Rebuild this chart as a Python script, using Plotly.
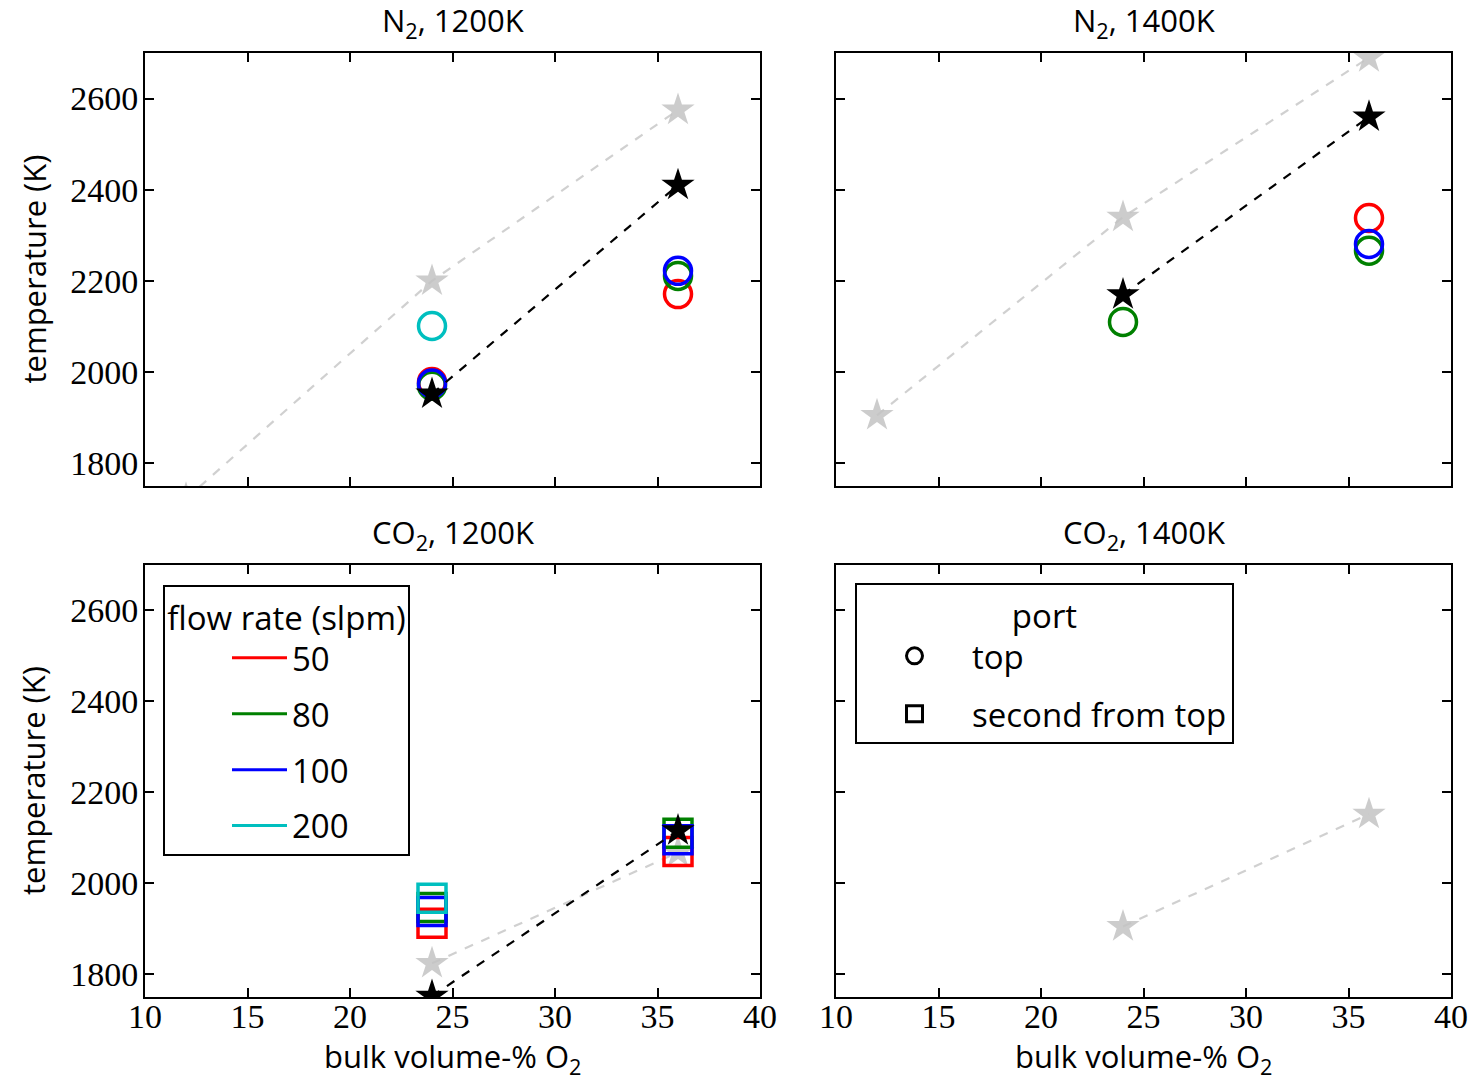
import plotly.graph_objects as go

# ---------------- data ----------------
x_pct = [12, 24, 36]                      # bulk volume-% O2
flow_rates = ["50", "80", "100", "200"]   # slpm
flow_colors = ["#ff0000", "#008000", "#0000ff", "#00bfbf"]

# N2, 1200K  (top port, circles)
n2_1200_ref = [1722, 2200, 2575]
n2_1200_meas = [None, 1952, 2410]
n2_1200_top = [[None, 1978, 2171],   # 50
               [None, 1970, 2211],   # 80
               [None, 1975, 2222],   # 100
               [None, 2101, None]]   # 200

# N2, 1400K  (top port, circles)
n2_1400_ref = [1905, 2340, 2690]
n2_1400_meas = [None, 2170, 2560]
n2_1400_top = [[None, None, 2338],
               [None, 2110, 2266],
               [None, None, 2281],
               [None, None, None]]

# CO2, 1200K  (second-from-top port, squares)
co2_1200_ref = [None, 1824, 2068]
co2_1200_meas = [None, 1752, 2116]
co2_1200_second = [[None, 1912, 2070],
                   [None, 1947, 2110],
                   [None, 1938, 2096],
                   [None, 1967, None]]

# CO2, 1400K
co2_1400_ref = [None, 1905, 2152]

panel_titles = ["N<sub>2</sub>, 1200K", "N<sub>2</sub>, 1400K",
                "CO<sub>2</sub>, 1200K", "CO<sub>2</sub>, 1400K"]

# ---------------- figure ----------------
fig = go.Figure()

panels = [
    ("x", "y", n2_1200_ref, n2_1200_meas, n2_1200_top, "circle-open"),
    ("x2", "y2", n2_1400_ref, n2_1400_meas, n2_1400_top, "circle-open"),
    ("x3", "y3", co2_1200_ref, co2_1200_meas, co2_1200_second, "square-open"),
    ("x4", "y4", co2_1400_ref, None, None, "circle-open"),
]

for xa, ya, ref, meas, groups, sym in panels:
    fig.add_trace(go.Scatter(
        x=x_pct, y=ref, xaxis=xa, yaxis=ya, mode="lines+markers",
        line=dict(color="rgba(200,200,200,0.85)", width=2.2, dash="dash"),
        marker=dict(symbol="star", size=25, color="rgba(195,195,195,0.85)",
                    line=dict(width=0)),
        showlegend=False, hoverinfo="skip", connectgaps=True))
    if groups is not None:
        for vals, col in zip(groups, flow_colors):
            fig.add_trace(go.Scatter(
                x=x_pct, y=vals, xaxis=xa, yaxis=ya, mode="markers",
                marker=dict(symbol=sym, size=27 if sym == "circle-open" else 28,
                            color=col, line=dict(width=3.5, color=col)),
                showlegend=False))
    if meas is not None:
        fig.add_trace(go.Scatter(
            x=x_pct, y=meas, xaxis=xa, yaxis=ya, mode="lines+markers",
            line=dict(color="black", width=2.2, dash="dash"),
            marker=dict(symbol="star", size=25, color="black", line=dict(width=0)),
            showlegend=False, connectgaps=True))

# legend entries: flow rate
for name, col in zip(flow_rates, flow_colors):
    fig.add_trace(go.Scatter(
        x=[None], y=[None], xaxis="x3", yaxis="y3", mode="lines",
        line=dict(color=col, width=3), name=name, legend="legend",
        legendgroup="f" + name, showlegend=True))

# legend entries: port
for name, sym in [("top", "circle-open"), ("second from top", "square-open")]:
    fig.add_trace(go.Scatter(
        x=[None], y=[None], xaxis="x4", yaxis="y4", mode="markers",
        marker=dict(symbol=sym, size=16, color="black", line=dict(width=3)),
        name=name, legend="legend2", legendgroup="p" + name, showlegend=True))

W, H = 1477, 1081
xl = [145 / W, 760 / W]
xr = [836 / W, 1451 / W]
yt = [1 - 486 / H, 1 - 53 / H]
yb = [1 - 997 / H, 1 - 565 / H]

SANS = "Open Sans, Lato, sans-serif"
tick_font = dict(family="Liberation Serif, DejaVu Serif, serif", size=34, color="black")
title_font = dict(family=SANS, size=31, color="black")


def xaxis(domain, anchor, labels):
    return dict(domain=domain, anchor=anchor, range=[10, 40], tick0=10, dtick=5,
                showgrid=False, zeroline=False, showline=True, linecolor="black",
                linewidth=2, mirror="ticks", ticks="inside", ticklen=9, tickwidth=1.5,
                tickcolor="black", showticklabels=labels, tickfont=tick_font,
                automargin=False, ticklabelstandoff=-12)


def yaxis(domain, anchor, labels):
    return dict(domain=domain, anchor=anchor, range=[1750, 2700], tick0=1800, dtick=200,
                showgrid=False, zeroline=False, showline=True, linecolor="black",
                linewidth=2, mirror="ticks", ticks="inside", ticklen=9, tickwidth=1.5,
                tickcolor="black", showticklabels=labels, tickfont=tick_font,
                automargin=False, ticklabelstandoff=-2)


annotations = []
for txt, dom_x, dom_y in zip(panel_titles, [xl, xr, xl, xr], [yt, yt, yb, yb]):
    annotations.append(dict(
        text=txt, x=(dom_x[0] + dom_x[1]) / 2, y=dom_y[1], xref="paper", yref="paper",
        xanchor="center", yanchor="bottom", yshift=6, showarrow=False,
        font=dict(family=SANS, size=31, color="black")))

# axis titles
for dom_y in [yt, yb]:
    annotations.append(dict(
        text="temperature (K)", x=33 / W, y=(dom_y[0] + dom_y[1]) / 2,
        xref="paper", yref="paper", textangle=-90, xanchor="center", yanchor="middle",
        showarrow=False, font=title_font))
for dom_x in [xl, xr]:
    annotations.append(dict(
        text="bulk volume-% O<sub>2</sub>", x=(dom_x[0] + dom_x[1]) / 2, y=1 - 1058 / H,
        xref="paper", yref="paper", xanchor="center", yanchor="middle",
        showarrow=False, font=dict(family=SANS, size=31, color="black")))

legend_font = dict(family=SANS, size=33, color="black")

fig.update_layout(
    width=W, height=H,
    margin=dict(l=0, r=0, t=0, b=0),
    paper_bgcolor="white", plot_bgcolor="white",
    xaxis=xaxis(xl, "y", False),
    yaxis=yaxis(yt, "x", True),
    xaxis2=xaxis(xr, "y2", False),
    yaxis2=yaxis(yt, "x2", False),
    xaxis3=xaxis(xl, "y3", True),
    yaxis3=yaxis(yb, "x3", True),
    xaxis4=xaxis(xr, "y4", True),
    yaxis4=yaxis(yb, "x4", False),
    annotations=annotations,
    legend=dict(
        x=163 / W, y=1 - 585 / H, xanchor="left", yanchor="top",
        bgcolor="white", bordercolor="black", borderwidth=2,
        font=legend_font, tracegroupgap=10, itemwidth=55, indentation=62,
        title=dict(text="flow rate (slpm)", font=legend_font, side="top center"),
    ),
    legend2=dict(
        x=855 / W, y=1 - 583 / H, xanchor="left", yanchor="top",
        bgcolor="white", bordercolor="black", borderwidth=2,
        font=legend_font, tracegroupgap=12, itemwidth=105, itemsizing="trace",
        title=dict(text="port", font=legend_font, side="top center"),
    ),
    showlegend=True,
)

fig.write_html("out.html")
